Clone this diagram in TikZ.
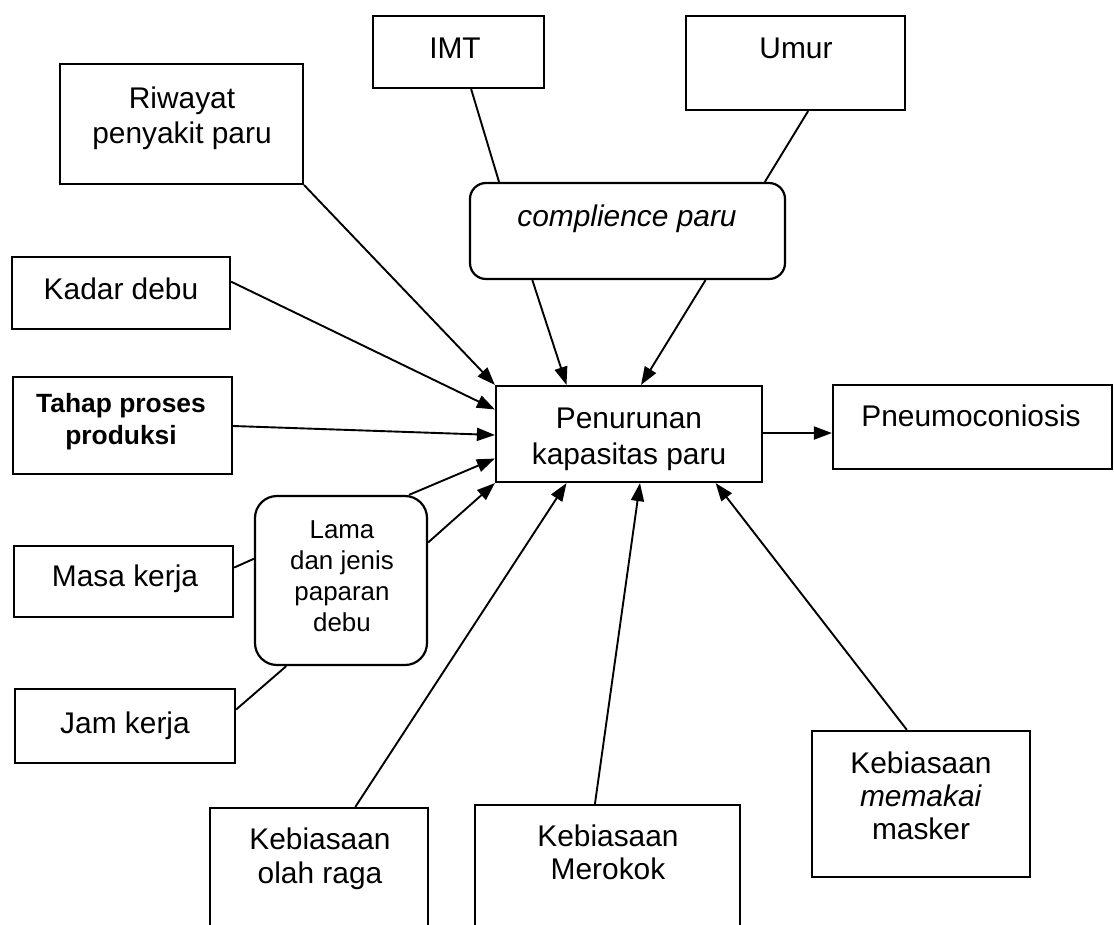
\documentclass[tikz,border=0pt]{standalone}
\usepackage{fontspec}
\setmainfont{Liberation Sans}
\usetikzlibrary{arrows.meta,calc}
\begin{document}
\begin{tikzpicture}[x=1bp,y=-1bp,
  box/.style={draw, line width=2.2bp, inner sep=0pt},
  rbox/.style={box, rounded corners=16bp},
  txt/.style={anchor=base, align=center, inner sep=0pt, font=\fontsize{30}{35}\selectfont},
  link/.style={line width=1.9bp},
  arr/.style={link, -{Triangle[length=18bp,width=13bp]}}]
\useasboundingbox (0,0) rectangle (1114,925);
\clip (0,0) rectangle (1114,925);

% boxes
\node[box, minimum width=171bp, minimum height=72bp] (imt) at (458.5,52) {};
\node[box, minimum width=219bp, minimum height=94bp] (umur) at (795.5,63) {};
\node[box, minimum width=243bp, minimum height=120bp] (riw) at (181.5,124) {};
\node[rbox, minimum width=315bp, minimum height=96bp] (comp) at (627.5,231) {};
\node[box, minimum width=218bp, minimum height=72bp] (kadar) at (121,293) {};
\node[box, minimum width=219bp, minimum height=97bp] (tahap) at (122.5,425.5) {};
\node[box, minimum width=266bp, minimum height=96bp] (pen) at (629,434) {};
\node[box, minimum width=279bp, minimum height=84bp] (pneu) at (972.5,427) {};
\node[box, rounded corners=22bp, minimum width=172bp, minimum height=169bp] (lama) at (341,580.5) {};
\node[box, minimum width=219bp, minimum height=71bp] (masa) at (123.5,581.5) {};
\node[box, minimum width=220bp, minimum height=74bp] (jam) at (125,726) {};
\node[box, minimum width=218bp, minimum height=172bp] (olah) at (319,894) {};
\node[box, minimum width=265bp, minimum height=175bp] (mer) at (607.5,892.5) {};
\node[box, minimum width=218bp, minimum height=146bp] (mask) at (921,804) {};

% texts (base anchor = baseline of the last line)
\node[txt] (timt) at (455,58) {IMT};
\node[txt] (tumur) at (796,58) {Umur};
\node[txt] (triw) at (182,143) {Riwayat\\penyakit paru};
\node[txt, font=\fontsize{30}{35}\selectfont\itshape] (tcomp) at (627,226) {complience paru};
\node[txt] (tkadar) at (121,299) {Kadar debu};
\node[txt, font=\fontsize{26.5}{32}\selectfont\bfseries] (ttahap) at (121,444.5) {Tahap proses\\produksi};
\node[txt, font=\fontsize{30}{36}\selectfont] (tpen) at (629,464) {Penurunan\\kapasitas paru};
\node[txt] (tpneu) at (971,426) {Pneumoconiosis};
\node[txt, font=\fontsize{26}{31}\selectfont] (tlama) at (342,631.5) {Lama\\dan jenis\\paparan\\debu};
\node[txt] (tmasa) at (125,586) {Masa kerja};
\node[txt] (tjam) at (125,733) {Jam kerja};
\node[txt, font=\fontsize{30}{34}\selectfont] (tolah) at (320,883) {Kebiasaan\\olah raga};
\node[txt, font=\fontsize{30}{33}\selectfont] (tmer) at (608,879) {Kebiasaan\\Merokok};
\node[txt, font=\fontsize{30}{33}\selectfont] (tmask) at (921,839) {Kebiasaan\\\textit{memakai}\\masker};

% connectors
\draw[link] ($(imt.south west)!0.573!(imt.south east)$) -- ($(comp.north west)!0.095!(comp.north east)$);
\draw[link] ($(umur.south west)!0.557!(umur.south east)$) -- ($(comp.north west)!0.933!(comp.north east)$);
\draw[arr] ($(comp.south west)!0.2!(comp.south east)$) -- ($(pen.north west)!0.267!(pen.north east)$);
\draw[arr] ($(comp.south west)!0.746!(comp.south east)$) -- ($(pen.north west)!0.545!(pen.north east)$);
\draw[arr] (riw.south east) -- (pen.north west);
\draw[arr] ($(kadar.north east)!0.347!(kadar.south east)$) -- ($(pen.north west)!0.25!(pen.south west)$);
\draw[arr] ($(tahap.north east)!0.505!(tahap.south east)$) -- ($(pen.north west)!0.51!(pen.south west)$);
\draw[arr] ($(lama.north west)!0.89!(lama.north east)$) -- ($(pen.north west)!0.75!(pen.south west)$);
\draw[arr] ($(lama.north east)!0.278!(lama.south east)$) -- (pen.south west);
\draw[link] ($(masa.north east)!0.31!(masa.south east)$) -- ($(lama.north west)!0.373!(lama.south west)$);
\draw[link] ($(jam.north east)!0.284!(jam.south east)$) -- ($(lama.south west)!0.186!(lama.south east)$);
\draw[arr] ($(olah.north west)!0.665!(olah.north east)$) -- ($(pen.south west)!0.267!(pen.south east)$);
\draw[arr] ($(mer.north west)!0.453!(mer.north east)$) -- ($(pen.south west)!0.541!(pen.south east)$);
\draw[arr] ($(mask.north west)!0.436!(mask.north east)$) -- ($(pen.south west)!0.823!(pen.south east)$);
\coordinate (pa) at ($(pen.north east)!0.49!(pen.south east)$);
\draw[arr] (pa) -- (pa -| pneu.west);
\end{tikzpicture}
\end{document}
